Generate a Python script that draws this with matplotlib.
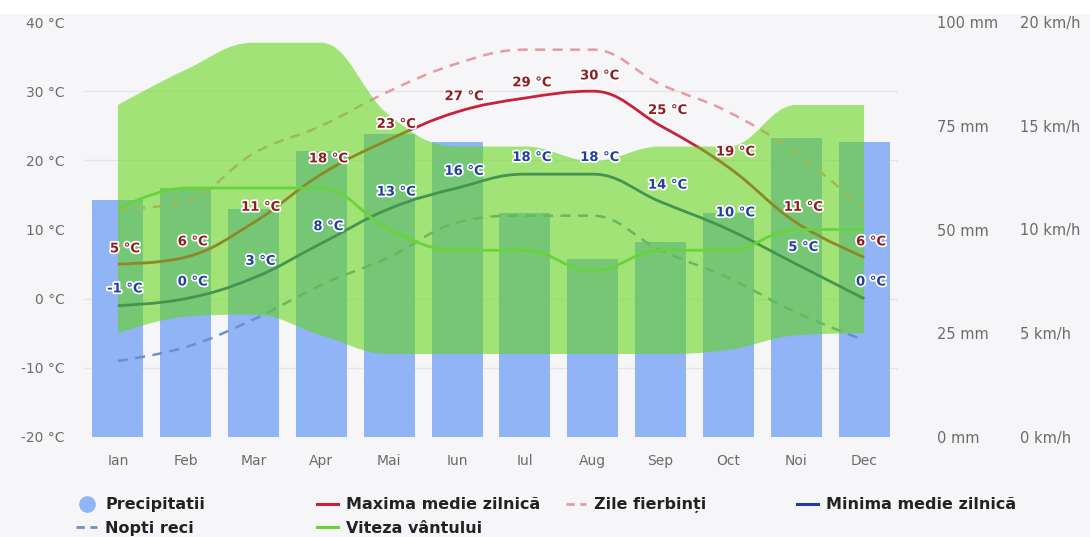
import numpy as np
import matplotlib.pyplot as plt
from matplotlib.path import Path
from matplotlib.patches import PathPatch, Rectangle
from matplotlib.lines import Line2D
import matplotlib.patheffects as pe

# ---- data ----
months = ["Ian", "Feb", "Mar", "Apr", "Mai", "Iun", "Iul", "Aug", "Sep", "Oct", "Noi", "Dec"]
precip_mm = [57, 60, 55, 69, 73, 71, 54, 43, 47, 54, 72, 71]
temp_max = [5, 6, 11, 18, 23, 27, 29, 30, 25, 19, 11, 6]
temp_min = [-1, 0, 3, 8, 13, 16, 18, 18, 14, 10, 5, 0]
hot_days = [13, 14, 21, 25, 30, 34, 36, 36, 31, 27, 21, 13]
cold_nights = [-9, -7, -3, 2, 6, 11, 12, 12, 7, 3, -2, -6]
wind_kmh = [11, 12, 12, 12, 10, 9, 9, 8, 9, 9, 10, 10]
wind_hi = [16, 17.7, 19, 19, 15.5, 14, 14, 13.3, 14, 14, 16, 16]
wind_lo = [5, 5.8, 5.9, 4.9, 4, 4, 4, 4, 4, 4.2, 4.9, 5]

BG = "#f6f6f8"
TICK = "#6b6b6b"


def controls(xs, ys, smoothing=1.5):
    # highcharts-like spline control points
    n = len(xs)
    lc = [[x, y] for x, y in zip(xs, ys)]
    rc = [[x, y] for x, y in zip(xs, ys)]
    d = smoothing + 1
    for i in range(1, n - 1):
        x, y = xs[i], ys[i]
        lx = (smoothing * x + xs[i - 1]) / d
        ly = (smoothing * y + ys[i - 1]) / d
        rx = (smoothing * x + xs[i + 1]) / d
        ry = (smoothing * y + ys[i + 1]) / d
        corr = (ry - ly) * (rx - x) / (rx - lx) + y - ry
        ly += corr
        ry += corr
        if ly > ys[i - 1] and ly > y:
            ly = max(ys[i - 1], y); ry = 2 * y - ly
        elif ly < ys[i - 1] and ly < y:
            ly = min(ys[i - 1], y); ry = 2 * y - ly
        if ry > ys[i + 1] and ry > y:
            ry = max(ys[i + 1], y); ly = 2 * y - ry
        elif ry < ys[i + 1] and ry < y:
            ry = min(ys[i + 1], y); ly = 2 * y - ry
        lc[i] = [lx, ly]
        rc[i] = [rx, ry]
    verts = [(xs[0], ys[0])]
    for i in range(1, n):
        verts += [tuple(rc[i - 1]), tuple(lc[i]), (xs[i], ys[i])]
    return verts


def spline_path(xs, ys):
    v = controls(xs, ys)
    return Path(v, [Path.MOVETO] + [Path.CURVE4] * (len(v) - 1))


def band_path(xs, hi, lo):
    top = controls(xs, hi)
    bot = controls(xs[::-1], lo[::-1])
    v = top + bot + [top[0]]
    codes = ([Path.MOVETO] + [Path.CURVE4] * (len(top) - 1) +
             [Path.LINETO] + [Path.CURVE4] * (len(bot) - 1) + [Path.CLOSEPOLY])
    return Path(v, codes)


x = list(range(len(months)))

fig = plt.figure(figsize=(10.9, 5.37), dpi=100, facecolor=BG)
fig.add_artist(Rectangle((0, 1 - 14 / 537), 1, 14 / 537, transform=fig.transFigure,
                         facecolor="white", edgecolor="none", zorder=-1))
ax_p = fig.add_axes([84 / 1090, 100 / 537, 814 / 1090, 415 / 537])
ax_t = ax_p.twinx()
ax_w = ax_p.twinx()
ax_p.set_zorder(0)
ax_t.set_zorder(1)
ax_w.set_zorder(2)
ax_p.set_facecolor(BG)

# precipitation bars
ax_p.bar(x, precip_mm, width=0.75, color="#90b4f5", zorder=2)
ax_p.set_ylim(0, 100)
ax_p.set_xlim(-0.5, 11.5)
ax_p.set_yticks(np.linspace(0, 100, 7), minor=True)
ax_p.grid(which="minor", axis="y", color="#e4e4e8", linewidth=1, zorder=0)
ax_p.set_axisbelow(True)

# temperatures
ax_t.set_ylim(-20, 40)
ax_t.add_patch(PathPatch(spline_path(x, hot_days), fill=False, edgecolor="#e89aa2",
                         lw=1.8, linestyle=(0, (4, 3))))
ax_t.add_patch(PathPatch(spline_path(x, cold_nights), fill=False, edgecolor="#6f8fc6",
                         lw=1.8, linestyle=(0, (4, 3))))
ax_t.add_patch(PathPatch(spline_path(x, temp_max), fill=False, edgecolor="#c8213a", lw=2))
ax_t.add_patch(PathPatch(spline_path(x, temp_min), fill=False, edgecolor="#1f3d9e", lw=2))

# wind
ax_w.set_ylim(0, 20)
ax_w.add_patch(PathPatch(band_path(x, wind_hi, wind_lo), facecolor="#62d616",
                         edgecolor="none", alpha=0.57))
ax_w.add_patch(PathPatch(spline_path(x, wind_kmh), fill=False, edgecolor="#66d43a", lw=2))

# value labels
halo = [pe.withStroke(linewidth=2.5, foreground="white")]
for i in x:
    ax_w.annotate(f"{temp_max[i]} °C", (i, temp_max[i]), xycoords=ax_t.transData,
                  xytext=(5, 11), textcoords="offset points", ha="center", va="center",
                  fontsize=9.5, fontweight="bold", color="#8e1d22", path_effects=halo)
    ax_w.annotate(f"{temp_min[i]} °C", (i, temp_min[i]), xycoords=ax_t.transData,
                  xytext=(5, 12), textcoords="offset points", ha="center", va="center",
                  fontsize=9.5, fontweight="bold", color="#22409c", path_effects=halo)

# axes styling
for a in (ax_p, ax_t, ax_w):
    for s in a.spines.values():
        s.set_visible(False)

ax_p.set_xticks(x)
ax_p.set_xticklabels(months)
ax_p.tick_params(axis="x", length=0, pad=12, labelsize=10, labelcolor=TICK)
ax_p.tick_params(axis="y", which="minor", length=0)

ax_t.yaxis.tick_left()
ax_t.set_yticks([-20, -10, 0, 10, 20, 30, 40])
ax_t.set_yticklabels([f"{v} °C" for v in [-20, -10, 0, 10, 20, 30, 40]])
ax_t.tick_params(axis="y", length=0, pad=14, labelsize=10, labelcolor=TICK)

ax_p.yaxis.tick_right()
ax_p.set_yticks([0, 25, 50, 75, 100])
ax_p.set_yticklabels([f"{v} mm" for v in [0, 25, 50, 75, 100]])
ax_p.tick_params(axis="y", which="major", length=0, pad=28, labelsize=10.5, labelcolor=TICK)

ax_w.yaxis.tick_right()
ax_w.set_yticks([0, 5, 10, 15, 20])
ax_w.set_yticklabels([f"{v} km/h" for v in [0, 5, 10, 15, 20]])
ax_w.tick_params(axis="y", length=0, pad=88, labelsize=10.5, labelcolor=TICK)

# legend in four columns
cols = [
    ([Line2D([], [], marker="o", ls="none", ms=11, color="#90b4f5"),
      Line2D([], [], color="#6f8fc6", lw=2, ls=(0, (3, 2)))], ["Precipitatii", "Nopti reci"], 0.070),
    ([Line2D([], [], color="#c8213a", lw=2.2),
      Line2D([], [], color="#66d43a", lw=2.2)], ["Maxima medie zilnică", "Viteza vântului"], 0.291),
    ([Line2D([], [], color="#e89aa2", lw=2, ls=(0, (3, 2)))], ["Zile fierbinți"], 0.519),
    ([Line2D([], [], color="#1f3d9e", lw=2.2)], ["Minima medie zilnică"], 0.731),
]
for handles, labels, xpos in cols:
    leg = fig.legend(handles, labels, loc="upper left", bbox_to_anchor=(xpos, 0.074),
                     frameon=False, borderpad=0, borderaxespad=0, handlelength=1.3,
                     handletextpad=0.5, labelspacing=0.55,
                     prop={"size": 11.5, "weight": "bold"})
    for t in leg.get_texts():
        t.set_color("#222222")

fig.savefig("out.png", dpi=100, facecolor=BG)
